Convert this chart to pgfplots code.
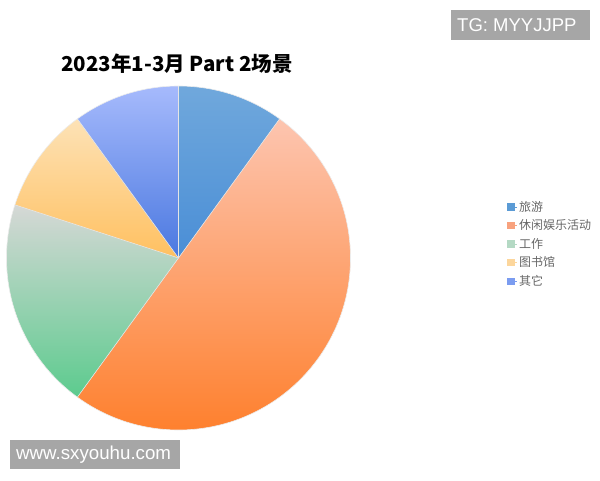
\documentclass[border=0pt]{standalone}
\usepackage{pgfplots}
\pgfplotsset{compat=1.18}
\usepackage{pgfplotstable}
\usepackage{fontspec}
\setmainfont{Noto Sans CJK SC}
\newfontfamily\wmfont{Liberation Sans}
\definecolor{l1}{HTML}{5B9BD5}
\definecolor{l2}{HTML}{F8A27E}
\definecolor{l3}{HTML}{B4D9C4}
\definecolor{l4}{HTML}{FCD69C}
\definecolor{l5}{HTML}{7B9CF0}
\definecolor{t1}{HTML}{70A8DC}
\definecolor{b1}{HTML}{4A8ED6}
\definecolor{t2}{HTML}{FDC5B0}
\definecolor{b2}{HTML}{FE7F2C}
\definecolor{t3}{HTML}{D6D8D6}
\definecolor{b3}{HTML}{5CCB8E}
\definecolor{t4}{HTML}{FDE2B6}
\definecolor{b4}{HTML}{FFC060}
\definecolor{t5}{HTML}{A6BAFC}
\definecolor{b5}{HTML}{4A78E0}
\definecolor{wmgray}{HTML}{A6A6A6}
\definecolor{legtext}{HTML}{666666}
% share of each scene, percent
\pgfplotstableread{
label value
旅游 10
休闲娱乐活动 50
工作 20
图书馆 10
其它 10
}\piedata
\begin{document}
\begin{tikzpicture}
\useasboundingbox (0pt,0pt) rectangle (600pt,480pt);
\begin{axis}[
  hide axis,
  x=172pt, y=172pt,
  xmin=-1, xmax=1, ymin=-1, ymax=1,
  anchor=center, at={(178.5pt,222pt)},
  clip=false,
  legend style={draw=none, fill=none, inner sep=0pt,
    at={(1.455,0.541)}, anchor=west,
    font=\fontsize{12}{14}\selectfont\color{legtext},
    row sep=3pt, cells={anchor=west}},
  legend image code/.code={\fill[#1] (0pt,-3.25pt) rectangle (6.5pt,3.25pt); \path (0pt,0pt) -- (9.5pt,0pt);},
]
\addlegendimage{l1}
\addlegendimage{l2}
\addlegendimage{l3}
\addlegendimage{l4}
\addlegendimage{l5}
\legend{旅游,休闲娱乐活动,工作,图书馆,其它}
% slices, clockwise from the top; 3.6 degrees per percent
\shade[top color=t1, bottom color=b1] (axis cs:0,0) -- (axis cs:{cos(90)},{sin(90)})
  arc[start angle=90, delta angle=-3.6*10, radius=172pt] -- cycle;
\shade[top color=t2, bottom color=b2] (axis cs:0,0) -- (axis cs:{cos(54)},{sin(54)})
  arc[start angle=54, delta angle=-3.6*50, radius=172pt] -- cycle;
\shade[top color=t3, bottom color=b3] (axis cs:0,0) -- (axis cs:{cos(-126)},{sin(-126)})
  arc[start angle=-126, delta angle=-3.6*20, radius=172pt] -- cycle;
\shade[top color=t4, bottom color=b4] (axis cs:0,0) -- (axis cs:{cos(-198)},{sin(-198)})
  arc[start angle=-198, delta angle=-3.6*10, radius=172pt] -- cycle;
\shade[top color=t5, bottom color=b5] (axis cs:0,0) -- (axis cs:{cos(-234)},{sin(-234)})
  arc[start angle=-234, delta angle=-3.6*10, radius=172pt] -- cycle;
% thin light separators
\draw[white!80!gray, line width=0.6pt] (axis cs:0,0) -- (axis cs:{cos(90)},{sin(90)});
\draw[white!80!gray, line width=0.6pt] (axis cs:0,0) -- (axis cs:{cos(54)},{sin(54)});
\draw[white!80!gray, line width=0.6pt] (axis cs:0,0) -- (axis cs:{cos(-126)},{sin(-126)});
\draw[white!80!gray, line width=0.6pt] (axis cs:0,0) -- (axis cs:{cos(-198)},{sin(-198)});
\draw[white!80!gray, line width=0.6pt] (axis cs:0,0) -- (axis cs:{cos(-234)},{sin(-234)});
\draw[white!85!gray, line width=0.6pt] (axis cs:0,0) circle[radius=172pt];
\end{axis}
% title
\node[font=\fontsize{20.5}{24}\selectfont\bfseries, anchor=center] at (177pt,416pt) {2023年1-3月 Part 2场景};
% watermarks
\fill[wmgray] (451pt,440pt) rectangle (590pt,470pt);
\node[font=\wmfont\fontsize{18.5}{21}\selectfont, text=white, anchor=west, inner sep=0pt] at (457pt,455pt) {TG: MYYJJPP};
\fill[wmgray] (10pt,11pt) rectangle (180pt,40pt);
\node[font=\wmfont\fontsize{18.7}{21}\selectfont, text=white, anchor=west, inner sep=0pt] at (16pt,25.5pt) {www.sxyouhu.com};
\end{tikzpicture}
\end{document}
